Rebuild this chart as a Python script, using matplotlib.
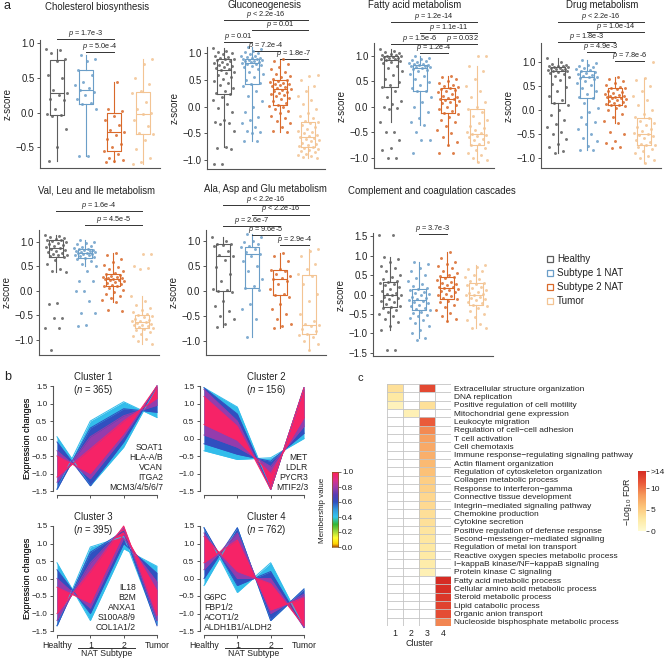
import numpy as np
import matplotlib
matplotlib.use("Agg")
import matplotlib.pyplot as plt
from matplotlib.colors import LinearSegmentedColormap
from matplotlib.patches import Rectangle
from matplotlib.lines import Line2D

plt.rcParams['font.family'] = ['Liberation Sans', 'DejaVu Sans']
plt.rcParams['mathtext.fontset'] = 'custom'
plt.rcParams['mathtext.rm'] = 'Liberation Sans'
plt.rcParams['mathtext.it'] = 'Liberation Sans:italic'

# ---------------- data: panel a ----------------
groups = ["Healthy", "Subtype 1 NAT", "Subtype 2 NAT", "Tumor"]
group_colors = ["#5e5e5e", "#6b9ec8", "#d9692a", "#f3c493"]

# box stats per group: [whisker_low, q1, median, q3, whisker_high]
chol_box = [[-0.70, -0.04, 0.29, 0.76, 0.92], [-0.62, 0.13, 0.33, 0.62, 0.83],
            [-0.71, -0.55, -0.285, 0.0, 0.45], [-0.74, -0.31, -0.02, 0.30, 0.78]]
chol_h = [0.92, 0.90, 0.86, 0.77, 0.74, 0.55, 0.50, 0.33, 0.29, 0.25, 0.20, 0.18, 0.05, -0.02, -0.03, -0.05, -0.24, -0.50, -0.70]
chol_s1 = [0.83, 0.78, 0.75, 0.62, 0.55, 0.45, 0.40, 0.36, 0.33, 0.30, 0.25, 0.20, 0.14, 0.12, 0.05, -0.62, -0.62]
chol_s2 = [0.45, 0.05, 0.02, -0.05, -0.10, -0.18, -0.25, -0.28, -0.32, -0.38, -0.45, -0.50, -0.55, -0.60, -0.65, -0.68, -0.70, -0.72]
chol_t = [0.78, 0.70, 0.50, 0.42, 0.32, 0.28, 0.15, 0.05, 0.0, -0.02, -0.10, -0.20, -0.30, -0.31, -0.40, -0.52, -0.65, -0.72, -0.74]

gluco_box = [[-0.75, 0.23, 0.68, 0.89, 1.10], [-0.65, 0.43, 0.82, 0.90, 1.13],
             [-0.47, 0.04, 0.33, 0.50, 0.89], [-0.97, -0.75, -0.56, -0.28, 0.38]]
gluco_h = [1.10, 1.05, 1.02, 1.0, 0.98, 0.95, 0.93, 0.92, 0.90, 0.89, 0.88, 0.86, 0.84, 0.82, 0.80, 0.78, 0.76, 0.74, 0.72, 0.70, 0.68, 0.66, 0.64, 0.60, 0.56, 0.52, 0.48, 0.44, 0.40, 0.35, 0.30, 0.26, 0.23, 0.18, 0.12, 0.05, -0.02, -0.10, -0.25, -0.28, -0.30, -0.32, -0.45, -0.75, -0.78, -0.80, -1.07, -1.07]
gluco_s1 = [1.12, 1.08, 1.05, 1.02, 1.0, 0.98, 0.96, 0.95, 0.93, 0.92, 0.91, 0.90, 0.89, 0.88, 0.87, 0.86, 0.85, 0.84, 0.83, 0.82, 0.81, 0.80, 0.78, 0.76, 0.74, 0.70, 0.66, 0.62, 0.56, 0.50, 0.45, 0.43, 0.38, 0.30, 0.20, 0.10, 0.0, -0.10, -0.20, -0.25, -0.30, -0.38, -0.45, -0.48, -0.50, -0.65, -0.65]
gluco_s2 = [0.89, 0.85, 0.80, 0.75, 0.70, 0.66, 0.62, 0.58, 0.55, 0.52, 0.50, 0.49, 0.47, 0.45, 0.43, 0.42, 0.40, 0.38, 0.36, 0.35, 0.33, 0.32, 0.30, 0.28, 0.26, 0.24, 0.22, 0.20, 0.17, 0.14, 0.10, 0.06, 0.04, 0.02, 0.0, -0.04, -0.08, -0.12, -0.18, -0.22, -0.26, -0.30, -0.38, -0.45, -0.47]
gluco_t = [0.60, 0.58, 0.50, 0.38, 0.30, 0.20, 0.12, 0.05, -0.05, -0.12, -0.18, -0.22, -0.26, -0.28, -0.30, -0.34, -0.38, -0.42, -0.45, -0.48, -0.50, -0.53, -0.55, -0.56, -0.58, -0.60, -0.62, -0.65, -0.68, -0.70, -0.72, -0.74, -0.75, -0.77, -0.80, -0.82, -0.84, -0.86, -0.88, -0.90, -0.93, -0.95, -0.97]

fatty_box = [[-0.29, 0.39, 0.92, 0.99, 1.13], [-0.35, 0.30, 0.76, 0.82, 0.99],
             [-0.75, -0.12, 0.15, 0.37, 0.61], [-1.09, -0.75, -0.53, -0.05, 0.79]]
fatty_h = [1.13, 1.10, 1.08, 1.06, 1.04, 1.02, 1.01, 1.0, 0.99, 0.98, 0.97, 0.96, 0.95, 0.94, 0.93, 0.92, 0.90, 0.88, 0.85, 0.80, 0.76, 0.70, 0.62, 0.55, 0.48, 0.42, 0.39, 0.30, 0.20, 0.12, 0.05, 0.0, -0.02, -0.05, -0.29, -0.50, -0.50, -0.65, -0.80, -0.85, -1.0, -1.0]
fatty_s1 = [0.99, 0.96, 0.94, 0.92, 0.90, 0.88, 0.86, 0.84, 0.83, 0.82, 0.81, 0.80, 0.79, 0.78, 0.77, 0.76, 0.75, 0.73, 0.70, 0.65, 0.60, 0.55, 0.48, 0.42, 0.36, 0.31, 0.30, 0.20, 0.10, 0.0, -0.10, -0.22, -0.30, -0.35, -0.50, -0.65, -0.65, -0.90]
fatty_s2 = [0.61, 0.58, 0.55, 0.50, 0.46, 0.42, 0.40, 0.38, 0.37, 0.35, 0.32, 0.30, 0.28, 0.25, 0.22, 0.20, 0.18, 0.16, 0.15, 0.14, 0.12, 0.10, 0.07, 0.04, 0.0, -0.04, -0.08, -0.12, -0.15, -0.20, -0.25, -0.30, -0.38, -0.45, -0.52, -0.60, -0.70, -0.75, -0.90, -0.90]
fatty_t = [1.0, 1.0, 0.79, 0.70, 0.55, 0.40, 0.30, 0.20, 0.10, 0.0, -0.05, -0.10, -0.18, -0.25, -0.32, -0.38, -0.42, -0.46, -0.50, -0.52, -0.53, -0.55, -0.58, -0.60, -0.63, -0.66, -0.70, -0.73, -0.75, -0.80, -0.85, -0.90, -0.95, -1.0, -1.05, -1.09]

drug_box = [[-0.90, 0.15, 0.82, 0.90, 1.08], [-0.83, 0.26, 0.68, 0.82, 1.04],
            [-0.28, 0.10, 0.28, 0.47, 0.69], [-1.11, -0.74, -0.49, -0.17, 0.66]]
drug_h = [1.08, 1.0, 0.97, 0.95, 0.93, 0.92, 0.91, 0.90, 0.89, 0.88, 0.87, 0.86, 0.85, 0.84, 0.83, 0.82, 0.81, 0.80, 0.78, 0.76, 0.72, 0.68, 0.62, 0.55, 0.48, 0.40, 0.30, 0.20, 0.15, 0.10, 0.0, -0.10, -0.20, -0.30, -0.35, -0.45, -0.50, -0.60, -0.70, -0.78, -0.85, -0.90]
drug_s1 = [1.04, 0.98, 0.95, 0.92, 0.90, 0.88, 0.86, 0.84, 0.82, 0.80, 0.78, 0.76, 0.74, 0.72, 0.70, 0.68, 0.66, 0.64, 0.60, 0.56, 0.52, 0.46, 0.40, 0.34, 0.28, 0.26, 0.15, 0.05, -0.05, -0.15, -0.25, -0.30, -0.40, -0.50, -0.58, -0.65, -0.75, -0.83, -0.83]
drug_s2 = [0.69, 0.65, 0.60, 0.56, 0.52, 0.49, 0.47, 0.45, 0.43, 0.40, 0.38, 0.36, 0.34, 0.32, 0.30, 0.29, 0.28, 0.27, 0.26, 0.25, 0.23, 0.21, 0.19, 0.17, 0.15, 0.13, 0.11, 0.10, 0.08, 0.05, 0.0, -0.08, -0.15, -0.22, -0.28, -0.45, -0.50, -0.65, -0.68, -0.78, -0.80]
drug_t = [1.0, 0.66, 0.62, 0.50, 0.40, 0.30, 0.20, 0.10, 0.0, -0.08, -0.14, -0.17, -0.22, -0.28, -0.32, -0.36, -0.40, -0.44, -0.47, -0.49, -0.52, -0.55, -0.58, -0.62, -0.66, -0.70, -0.72, -0.74, -0.78, -0.82, -0.86, -0.90, -0.95, -1.0, -1.05, -1.11]

val_box = [[0.38, 0.69, 0.87, 1.03, 1.14], [0.50, 0.67, 0.78, 0.85, 1.03],
           [-0.22, 0.09, 0.24, 0.35, 0.77], [-1.08, -0.76, -0.64, -0.49, -0.10]]
val_h = [1.14, 1.12, 1.10, 1.08, 1.06, 1.04, 1.03, 1.01, 0.99, 0.97, 0.95, 0.93, 0.91, 0.89, 0.87, 0.86, 0.84, 0.82, 0.80, 0.78, 0.76, 0.74, 0.72, 0.70, 0.69, 0.62, 0.55, 0.45, 0.40, 0.38, -0.25, -0.27, -0.55, -0.56, -0.75, -0.76, -1.20]
val_s1 = [1.03, 1.0, 0.98, 0.95, 0.92, 0.90, 0.88, 0.86, 0.85, 0.84, 0.83, 0.82, 0.81, 0.80, 0.79, 0.78, 0.77, 0.76, 0.75, 0.74, 0.72, 0.70, 0.68, 0.67, 0.64, 0.60, 0.55, 0.50, 0.40, 0.20, 0.20, 0.0, 0.0, -0.20, -0.45, -0.46, -0.70, -0.71]
val_s2 = [0.77, 0.72, 0.65, 0.58, 0.52, 0.48, 0.44, 0.40, 0.37, 0.35, 0.33, 0.31, 0.29, 0.28, 0.27, 0.26, 0.25, 0.24, 0.23, 0.22, 0.20, 0.18, 0.16, 0.14, 0.12, 0.10, 0.09, 0.06, 0.02, -0.02, -0.06, -0.10, -0.14, -0.18, -0.22, -0.40, -0.42]
val_t = [0.75, 0.75, 0.50, 0.47, 0.45, -0.10, -0.20, -0.28, -0.35, -0.40, -0.44, -0.47, -0.49, -0.51, -0.54, -0.57, -0.59, -0.61, -0.62, -0.64, -0.65, -0.67, -0.69, -0.70, -0.72, -0.74, -0.76, -0.78, -0.80, -0.84, -0.88, -0.93, -0.98, -1.03, -1.08]

ala_box = [[-0.71, 0.01, 0.70, 0.94, 1.09], [-0.91, 0.07, 0.74, 0.89, 1.14],
           [-0.73, -0.08, 0.25, 0.43, 0.77], [-1.18, -0.85, -0.67, 0.32, 0.85]]
ala_h = [1.09, 1.0, 0.95, 0.94, 0.92, 0.90, 0.80, 0.72, 0.70, 0.62, 0.48, 0.35, 0.20, 0.05, 0.02, 0.01, -0.02, -0.20, -0.30, -0.40, -0.50, -0.55, -0.65, -0.71]
ala_s1 = [1.14, 1.08, 1.0, 0.98, 0.95, 0.90, 0.88, 0.85, 0.78, 0.74, 0.70, 0.60, 0.50, 0.40, 0.25, 0.10, 0.07, 0.02, -0.25, -0.35, -0.55, -0.91]
ala_s2 = [0.77, 0.70, 0.60, 0.45, 0.43, 0.40, 0.35, 0.30, 0.26, 0.25, 0.20, 0.15, 0.05, -0.05, -0.08, -0.12, -0.25, -0.35, -0.45, -0.55, -0.65, -0.70, -0.73]
ala_t = [0.85, 0.80, 0.70, 0.55, 0.45, 0.35, 0.30, 0.15, -0.05, -0.20, -0.45, -0.60, -0.65, -0.67, -0.70, -0.75, -0.80, -0.85, -0.88, -0.92, -1.0, -1.05, -1.18]

comp_box = [[-0.90, -0.32, 0.0, 0.32, 0.98], [-1.11, -0.40, -0.13, 0.15, 0.84],
            [-0.68, -0.11, 0.17, 0.45, 1.11], [-0.85, -0.26, 0.0, 0.30, 0.77]]
comp_h = [1.55, 1.55, 0.98, 0.92, 0.85, 0.75, 0.68, 0.60, 0.52, 0.45, 0.40, 0.35, 0.32, 0.30, 0.28, 0.25, 0.20, 0.15, 0.10, 0.05, 0.02, 0.0, -0.02, -0.05, -0.08, -0.12, -0.16, -0.20, -0.24, -0.28, -0.32, -0.35, -0.40, -0.45, -0.50, -0.55, -0.62, -0.70, -0.80, -0.90, -1.42, -1.42]
comp_s1 = [0.84, 0.80, 0.70, 0.60, 0.50, 0.42, 0.35, 0.28, 0.22, 0.18, 0.15, 0.12, 0.08, 0.05, 0.02, -0.02, -0.05, -0.08, -0.10, -0.13, -0.16, -0.19, -0.22, -0.26, -0.30, -0.34, -0.38, -0.40, -0.44, -0.48, -0.52, -0.56, -0.60, -0.66, -0.72, -0.80, -0.90, -1.0, -1.11, -1.18]
comp_s2 = [1.11, 0.95, 0.85, 0.80, 0.75, 0.70, 0.62, 0.56, 0.50, 0.47, 0.45, 0.42, 0.38, 0.34, 0.30, 0.27, 0.24, 0.21, 0.19, 0.17, 0.15, 0.12, 0.09, 0.06, 0.03, 0.0, -0.04, -0.08, -0.11, -0.15, -0.20, -0.26, -0.32, -0.40, -0.48, -0.55, -0.62, -0.68]
comp_t = [0.77, 0.72, 0.66, 0.60, 0.52, 0.46, 0.40, 0.35, 0.30, 0.27, 0.24, 0.20, 0.16, 0.12, 0.08, 0.04, 0.01, 0.0, -0.02, -0.05, -0.08, -0.11, -0.14, -0.18, -0.22, -0.26, -0.30, -0.35, -0.42, -0.50, -0.58, -0.66, -0.75, -0.85, -0.86]

# significance brackets: (label, group_from, group_to)
chol_p = [("= 1.7e-3", 1, 3), ("= 5.0e-4", 2, 3)]
gluco_p = [("< 2.2e-16", 1, 4), ("= 0.01", 2, 4), ("= 0.01", 1, 2), ("= 7.2e-4", 2, 3), ("= 1.8e-7", 3, 4)]
fatty_p = [("= 1.2e-14", 1, 4), ("= 1.1e-11", 2, 4), ("= 1.5e-6", 1, 3), ("= 0.032", 3, 4), ("= 1.2e-4", 2, 3)]
drug_p = [("< 2.2e-16", 1, 4), ("= 1.0e-14", 2, 4), ("= 1.8e-3", 1, 3), ("= 4.9e-3", 2, 3), ("= 7.8e-6", 3, 4)]
val_p = [("= 1.6e-4", 1, 4), ("= 4.5e-5", 2, 4)]
ala_p = [("< 2.2e-16", 1, 4), ("< 2.2e-16", 2, 4), ("= 2.6e-7", 1, 3), ("= 9.6e-5", 2, 3), ("= 2.9e-4", 3, 4)]
comp_p = [("= 3.7e-3", 2, 3)]

# ---------------- data: panel b ----------------
stages = ["Healthy", "1", "2", "Tumor"]
cluster_titles = ["Cluster 1", "Cluster 2", "Cluster 3", "Cluster 4"]
cluster_n = [365, 156, 395, 762]
cluster_genes = [["SOAT1", "HLA-A/B", "VCAN", "ITGA2", "MCM3/4/5/6/7"],
                 ["MET", "LDLR", "PYCR3", "MTIF2/3"],
                 ["IL18", "B2M", "ANXA1", "S100A8/9", "COL1A1/2"],
                 ["G6PC", "FBP1/2", "ACOT1/2", "ALDH1B1/ALDH2"]]
band_membership = [0.42, 0.60, 0.78, 0.97]
# each band: two extreme profiles (Healthy, NAT1, NAT2, Tumor)
c1_bands = [([0.05, -1.35, -0.25, 1.5], [-1.45, 0.5, 1.05, 0.6]),
            ([-0.1, -1.35, -0.1, 1.5], [-1.45, 0.3, 0.85, 0.75]),
            ([-0.35, -1.15, 0.05, 1.5], [-1.25, 0.05, 0.65, 0.95]),
            ([-0.5, -1.0, 0.15, 1.5], [-1.1, -0.3, 0.5, 1.15])]
c2_bands = [([1.45, 0.9, -1.45, 1.45], [-0.35, -0.6, -0.55, 0.0]),
            ([1.45, 0.7, -1.45, 1.45], [-0.15, -0.45, -0.65, 0.15]),
            ([1.4, 0.5, -1.45, 1.45], [0.1, -0.25, -0.8, 0.35]),
            ([1.2, 0.35, -1.45, 1.45], [0.4, -0.05, -1.0, 0.6])]
c3_bands = [([0.45, -1.2, 0.85, 0.35], [-1.35, 0.9, 1.2, -1.3]),
            ([0.25, -1.0, 1.0, 0.15], [-1.35, 0.75, 1.35, -1.35]),
            ([0.0, -0.85, 1.15, -0.1], [-1.2, 0.45, 1.45, -1.2]),
            ([-0.25, -0.7, 1.3, -0.35], [-1.0, 0.2, 1.5, -1.05])]
c4_bands = [([1.45, -0.4, 0.45, -1.4], [-0.2, 1.45, -1.2, -0.3]),
            ([1.45, -0.2, 0.2, -1.4], [0.0, 1.45, -1.2, -0.3]),
            ([1.3, 0.0, 0.0, -1.4], [0.25, 1.3, -1.0, -0.45]),
            ([1.2, 0.2, -0.15, -1.35], [0.45, 1.1, -0.9, -0.55])]

# ---------------- data: panel c ----------------
go_terms = ["Extracellular structure organization", "DNA replication",
            "Positive regulation of cell motility", "Mitochondrial gene expression",
            "Leukocyte migration", "Regulation of cell\u2212cell adhesion", "T cell activation",
            "Cell chemotaxis", "Immune response\u2212regulating signaling pathway",
            "Actin filament organization", "Regulation of cytoskeleton organization",
            "Collagen metabolic process", "Response to interferon\u2212gamma",
            "Connective tissue development", "Integrin\u2212mediated signaling pathway",
            "Chemokine production", "Cytokine secretion", "Positive regulation of defense response",
            "Second\u2212messenger\u2212mediated signaling", "Regulation of metal ion transport",
            "Reactive oxygen species metabolic process", "I\u2212kappaB kinase/NF\u2212kappaB signaling",
            "Protein kinase C signaling", "Fatty acid metabolic process",
            "Cellular amino acid metabolic process", "Steroid metabolic process",
            "Lipid catabolic process", "Organic anion transport",
            "Nucleoside bisphosphate metabolic process"]
fdr_c1 = [3.5, 2.8, 1.4] + [0] * 26
fdr_c2 = [0, 0, 0, 1.8] + [0] * 25
fdr_c3 = [12.2, 0, 3.5, 0, 11.2, 9.1, 8.0, 7.4, 7.0, 6.3, 5.9, 4.9, 4.8, 4.2, 4.0, 3.6, 3.5,
          3.1, 3.0, 2.8, 2.7, 2.4, 1.7, 0, 0, 0, 0, 0, 0]
fdr_c4 = [0] * 23 + [14.0, 13.8, 13.3, 12.6, 12.0, 9.3]

# ---------------- figure ----------------
W, H = 669, 661
fig = plt.figure(figsize=(6.69, 6.61), dpi=100)
TXT = "#222222"
AXC = "#555555"


def frect(x0, y0, x1, y1):
    return [x0 / W, 1 - y1 / H, (x1 - x0) / W, (y1 - y0) / H]


def fx(x):
    return x / W


def fy(y):
    return 1 - y / H


def style_axes(ax):
    for s in ["top", "right"]:
        ax.spines[s].set_visible(False)
    for s in ["left", "bottom"]:
        ax.spines[s].set_color(AXC)
        ax.spines[s].set_linewidth(0.8)
    ax.tick_params(colors=AXC, labelcolor=TXT, width=0.7, length=2.5, labelsize=6.9, pad=1.5)


panels = [
    ("Cholesterol biosynthesis", [chol_h, chol_s1, chol_s2, chol_t], chol_box, chol_p,
     (40, 40, 160, 168), (-0.80, 1.05), [-0.5, 0, 0.5, 1.0], [1.06, 0.87], (97, 7)),
    ("Gluconeogenesis", [gluco_h, gluco_s1, gluco_s2, gluco_t], gluco_box, gluco_p,
     (207, 47, 325, 169), (-1.17, 1.12), [-1.0, -0.5, 0, 0.5, 1.0], [1.63, 1.44, 1.22, 1.04, 0.89], (265, 5)),
    ("Fatty acid metabolism", [fatty_h, fatty_s1, fatty_s2, fatty_t], fatty_box, fatty_p,
     (374, 43, 494, 168), (-1.20, 1.25), [-1.0, -0.5, 0, 0.5, 1.0], [1.66, 1.45, 1.23, 1.23, 1.05], (415, 5)),
    ("Drug metabolism", [drug_h, drug_s1, drug_s2, drug_t], drug_box, drug_p,
     (541, 43, 661, 168), (-1.21, 1.40), [-1.0, -0.5, 0, 0.5, 1.0], [1.84, 1.63, 1.43, 1.21, 1.02], (602, 5)),
    ("Val, Leu and Ile metabolism", [val_h, val_s1, val_s2, val_t], val_box, val_p,
     (39, 230, 159, 355), (-1.31, 1.24), [-1.0, -0.5, 0, 0.5, 1.0], [1.63, 1.35], (97, 191)),
    ("Ala, Asp and Glu metabolism", [ala_h, ala_s1, ala_s2, ala_t], ala_box, ala_p,
     (206, 230, 326, 355), (-1.28, 1.22), [-1.0, -0.5, 0, 0.5, 1.0], [1.72, 1.53, 1.31, 1.12, 0.92], (265, 189)),
    ("Complement and coagulation cascades", [comp_h, comp_s1, comp_s2, comp_t], comp_box, comp_p,
     (373, 233, 493, 356), (-1.58, 1.59), [-1.5, -1.0, -0.5, 0, 0.5, 1.0, 1.5], [1.56], (432, 191)),
]

for title, pts, boxes, brackets, pbox, ylim, yticks, blev, txy in panels:
    ax = fig.add_axes(frect(*pbox))
    style_axes(ax)
    ax.set_xlim(0.4, 4.6)
    ax.set_ylim(*ylim)
    ax.set_xticks([])
    ax.set_yticks(yticks)
    ax.set_yticklabels([f"{v:.1f}".replace("-", "\u2212") for v in yticks])
    ax.set_ylabel("z-score", fontsize=7, color=TXT, labelpad=2)
    for gi in range(4):
        c = group_colors[gi]
        wl, q1, md, q3, wh = boxes[gi]
        ax.bxp([dict(med=md, q1=q1, q3=q3, whislo=wl, whishi=wh, fliers=[])],
               positions=[gi + 1], widths=0.5, showfliers=False, showcaps=False,
               boxprops=dict(color=c, linewidth=0.8), medianprops=dict(color=c, linewidth=0.8),
               whiskerprops=dict(color=c, linewidth=0.8), manage_ticks=False)
        vals = np.array(pts[gi])
        idx = np.arange(len(vals))
        jit = ((idx * 0.618034 + 0.31 * gi) % 1.0 - 0.5) * 0.78
        ax.scatter(gi + 1 + jit, vals, s=4.5, color=c, alpha=0.85, linewidths=0, zorder=3, clip_on=False)
    for (lab, g1, g2), yl in zip(brackets, blev):
        ax.plot([g1, g2], [yl, yl], color="#333333", lw=0.7, clip_on=False)
        ax.annotate(r"$p$ " + lab, xy=((g1 + g2) / 2, yl), xytext=(0, 0.0), textcoords="offset points",
                    ha="center", va="bottom", fontsize=5.3, color=TXT, annotation_clip=False)
    fig.text(fx(txy[0]), fy(txy[1]), title, ha="center", va="center", fontsize=6.9, color=TXT)

# legend
for i, (name, c) in enumerate(zip(groups, group_colors)):
    fig.patches.append(Rectangle((fx(547), fy(262 + 14 * i)), 6 / W, 6 / H, transform=fig.transFigure,
                                 fill=False, edgecolor=c, lw=0.9))
    fig.text(fx(557), fy(259 + 14 * i), name, va="center", ha="left", fontsize=7.1, color=TXT)

# panel letters
fig.text(fx(7), fy(6), "a", fontsize=9, ha="center", va="center", color=TXT)
fig.text(fx(8), fy(377), "b", fontsize=9, ha="center", va="center", color=TXT)
fig.text(fx(360), fy(378), "c", fontsize=8, ha="center", va="center", color=TXT)

# ---------------- panel b ----------------
mem_cmap = LinearSegmentedColormap.from_list("mem", [
    (0.00, "#b35806"), (0.04, "#ffd400"), (0.12, "#ffff33"), (0.22, "#8fd13a"), (0.30, "#33b833"),
    (0.40, "#33c6ee"), (0.50, "#3399dd"), (0.60, "#3050c0"), (0.70, "#5a3cb4"), (0.80, "#a23caa"),
    (0.90, "#e0308a"), (1.00, "#ff1e5a")])

cluster_boxes = [(57, 386, 157, 491), (204, 386, 304, 491), (57, 526, 157, 631), (204, 526, 304, 631)]
all_bands = [c1_bands, c2_bands, c3_bands, c4_bands]
title_pos = [(93, 377, 390), (266, 377, 390), (93, 517, 530), (266, 517, 530)]
gene_pos = [("right", 163, 447), ("right", 308, 458), ("right", 136, 587), ("left", 204, 597)]
xs = np.arange(4)
for k in range(4):
    x0, y0, x1, y1 = cluster_boxes[k]
    ax = fig.add_axes(frect(x0, y0, x1, y1))
    style_axes(ax)
    ax.tick_params(labelsize=5.8, length=2.5)
    ax.spines["left"].set_position(("outward", 3))
    ax.spines["bottom"].set_position(("outward", 3))
    ax.set_xlim(0, 3)
    ax.set_ylim(-1.5, 1.5)
    yt = [-1.5, -1.0, -0.5, 0.0, 0.5, 1.0, 1.5]
    ax.set_yticks(yt)
    ax.set_yticklabels([f"{v:.1f}".replace("-", "\u2212") for v in yt])
    ax.set_xticks(xs)
    if k >= 2:
        ax.set_xticklabels(stages, fontsize=6.3)
    else:
        ax.set_xticklabels([])
    for m, (a, b) in zip(band_membership, all_bands[k]):
        col = mem_cmap(m)
        ax.fill_between(xs, a, b, color=col, lw=0, clip_on=False)
        ax.plot(xs, a, color=col, lw=0.7, clip_on=False)
        ax.plot(xs, b, color=col, lw=0.7, clip_on=False)
    fig.text(fx(28), fy((y0 + y1) / 2), "Expression changes", rotation=90, ha="center", va="center",
             fontsize=6.5, color=TXT)
    tx, ty1, ty2 = title_pos[k]
    fig.text(fx(tx), fy(ty1), cluster_titles[k], ha="center", va="center", fontsize=6.9, color=TXT)
    fig.text(fx(tx), fy(ty2), f"($n$ = {cluster_n[k]})", ha="center", va="center", fontsize=6.9, color=TXT)
    ha, gx, gy = gene_pos[k]
    for j, g in enumerate(cluster_genes[k]):
        fig.text(fx(gx), fy(gy + 10 * j), g, ha=ha, va="center", fontsize=6.2, color=TXT)
    if k >= 2:
        lx0 = x0 + 0.63 * (x1 - x0) / 3
        lx1 = x0 + 2.34 * (x1 - x0) / 3
        fig.add_artist(Line2D([fx(lx0), fx(lx1)], [fy(648), fy(648)], color="#333333", lw=0.7))
        fig.text(fx((lx0 + lx1) / 2), fy(654), "NAT Subtype", ha="center", va="center", fontsize=6.3, color=TXT)

# membership colorbar
cax = fig.add_axes(frect(332, 472, 338, 547))
grad = np.linspace(0, 1, 256).reshape(-1, 1)
cax.imshow(grad, aspect="auto", cmap=mem_cmap, origin="lower", extent=[0, 1, 0, 1])
cax.set_xticks([])
cax.yaxis.tick_right()
cax.set_yticks([0, 0.2, 0.4, 0.6, 0.8, 1.0])
cax.set_yticklabels(["0.0", "0.2", "0.4", "0.6", "0.8", "1.0"])
cax.tick_params(labelsize=5.8, length=2, width=0.6, pad=1, colors=AXC, labelcolor=TXT)
for s in cax.spines.values():
    s.set_linewidth(0.5)
    s.set_color("#8a5a20")
fig.text(fx(323), fy(510), "Membership value", rotation=90, ha="center", va="center", fontsize=5.8, color=TXT)

# ---------------- panel c ----------------
fdr_cmap = LinearSegmentedColormap.from_list("fdr", [
    (0.0, "#fffbd2"), (0.2, "#fee9a3"), (0.4, "#fdc57a"), (0.6, "#f69a5c"), (0.8, "#ea5a3a"), (1.0, "#d62c24")])
fdr = np.array([fdr_c1, fdr_c2, fdr_c3, fdr_c4], dtype=float).T
nrow = len(go_terms)
hx = fig.add_axes(frect(387, 384, 451, 626))
masked = np.ma.masked_where(fdr <= 0, fdr)
hx.pcolormesh(np.arange(5), np.arange(nrow + 1), masked, cmap=fdr_cmap, vmin=0, vmax=14,
              edgecolors="none")
for r in range(nrow + 1):
    hx.axhline(r, color="#c4c4c4", lw=0.6)
for c in range(5):
    hx.axvline(c, color="#c4c4c4", lw=0.6)
hx.set_xlim(0, 4)
hx.set_ylim(nrow, 0)
for s in hx.spines.values():
    s.set_visible(False)
hx.set_xticks(np.arange(4) + 0.5)
hx.set_xticklabels(["1", "2", "3", "4"], fontsize=6.3, color=TXT)
hx.tick_params(axis="x", length=0, pad=2)
hx.set_xlabel("Cluster", fontsize=6.3, color=TXT, labelpad=1)
hx.yaxis.tick_right()
hx.set_yticks(np.arange(nrow) + 0.5)
hx.set_yticklabels(go_terms, fontsize=6.0, color=TXT)
hx.tick_params(axis="y", length=0, pad=2)

fax = fig.add_axes(frect(638, 471, 646, 531))
fgrad = np.linspace(0, 14, 256).reshape(-1, 1)
fax.imshow(fgrad, aspect="auto", cmap=fdr_cmap, origin="lower", extent=[0, 1, 0, 14], vmin=0, vmax=14)
fax.set_xticks([])
fax.yaxis.tick_right()
fax.set_yticks([0, 5, 10, 14])
fax.set_yticklabels(["0", "5", "10", ">14"])
fax.tick_params(labelsize=6.0, length=2, width=0.6, pad=1, colors=AXC, labelcolor=TXT)
for s in fax.spines.values():
    s.set_visible(False)
fig.text(fx(628), fy(502), "\u2212Log$_{10}$ FDR", rotation=90,
         ha="center", va="center", fontsize=6.3, color=TXT)

fig.savefig("out.png", dpi=100)
